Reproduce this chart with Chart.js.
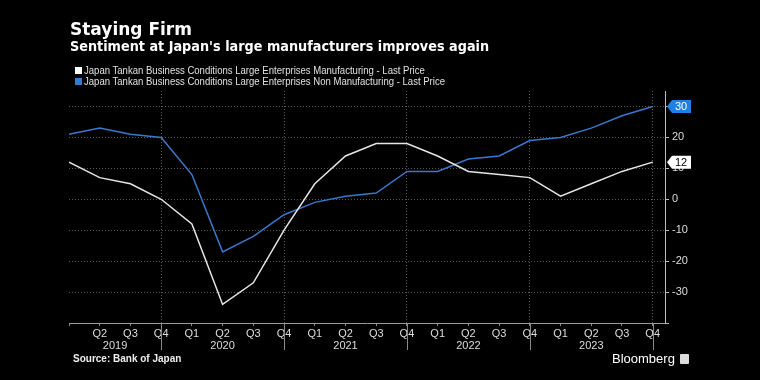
<!DOCTYPE html>
<html>
<head>
<meta charset="utf-8">
<script src="https://cdn.jsdelivr.net/npm/chart.js@4.4.0/dist/chart.umd.min.js"></script>
<style>
body{margin:0;background:#000;width:760px;height:380px;overflow:hidden;position:relative;}
#wrap{position:absolute;left:0;top:0;width:760px;height:380px;}
.t{position:absolute;color:#fff;white-space:nowrap;line-height:1;transform-origin:0 0;}
#title{left:70px;top:19px;font:bold 17px "DejaVu Sans";}
#sub{left:70px;top:38px;font:bold 14.5px "DejaVu Sans";transform:scaleX(0.885);}
.leg{left:75px;font:10.5px "Liberation Sans";color:#e0e0e0;}
.leg i{display:inline-block;width:7px;height:7px;margin-right:2px;}
.leg span{display:inline-block;transform:scaleX(0.91);transform-origin:0 0;}
#src{left:73px;top:353px;font:bold 10px "Liberation Sans";color:#eee;}
#bb{left:612px;top:351px;font:13px "Liberation Sans";color:#fff;}
#bb span{display:inline-block;width:9px;height:10px;background:#ddd;margin-left:5px;vertical-align:-1px;border-radius:1px;}
</style>
</head>
<body>
<div id="wrap"><canvas id="chart" width="760" height="380"></canvas></div>
<div class="t" id="title">Staying Firm</div>
<div class="t" id="sub">Sentiment at Japan's large manufacturers improves again</div>
<div class="t leg" style="top:64px"><i style="background:#fff"></i><span>Japan Tankan Business Conditions Large Enterprises Manufacturing - Last Price</span></div>
<div class="t leg" style="top:75px"><i style="background:#2f7fd8"></i><span>Japan Tankan Business Conditions Large Enterprises Non Manufacturing - Last Price</span></div>
<div class="t" id="src">Source: Bank of Japan</div>
<div class="t" id="bb">Bloomberg<span></span></div>
<script>
// quarterly, 2019 Q1 .. 2023 Q4
var quarters = ['Q1','Q2','Q3','Q4','Q1','Q2','Q3','Q4','Q1','Q2','Q3','Q4','Q1','Q2','Q3','Q4','Q1','Q2','Q3','Q4'];
var years = ['2019','2020','2021','2022','2023'];
var yearCenters = [1.5, 5, 9, 13, 17];
var yearBreaks = [3, 7, 11, 15, 19];
var manufacturing = [12,7,5,0,-8,-34,-27,-10,5,14,18,18,14,9,8,7,1,5,9,12];
var nonManufacturing = [21,23,21,20,8,-17,-12,-5,-1,1,2,9,9,13,14,19,20,23,27,30];

var white = '#e6e6e6';
var blue = '#3679d0';

function pts(arr){ return arr.map(function(v,i){ return {x:i, y:v}; }); }

var lastLabels = {
  id: 'lastLabels',
  afterDraw: function(chart){
    var c = chart.ctx, ys = chart.scales.y;
    var boxes = [
      {v: manufacturing[manufacturing.length-1], bg:'#ffffff', fg:'#000'},
      {v: nonManufacturing[nonManufacturing.length-1], bg:'#1f7fe3', fg:'#fff'}
    ];
    c.save();
    // long year separators under the axis
    var xs = chart.scales.x, b = chart.chartArea.bottom;
    c.strokeStyle = '#8a8a8a'; c.lineWidth = 1;
    yearBreaks.forEach(function(v){
      var x = Math.round(xs.getPixelForValue(v)) + 0.5;
      c.beginPath(); c.moveTo(x, b); c.lineTo(x, b + 27); c.stroke();
    });
    boxes.forEach(function(bx){
      var y = ys.getPixelForValue(bx.v), x0 = ys.left + 2;
      c.fillStyle = bx.bg;
      c.beginPath();
      c.moveTo(x0, y); c.lineTo(x0+5, y-6.5); c.lineTo(x0+24, y-6.5);
      c.lineTo(x0+24, y+6.5); c.lineTo(x0+5, y+6.5); c.closePath(); c.fill();
      c.fillStyle = bx.fg; c.font = '11px "Liberation Sans"';
      c.textAlign = 'center'; c.textBaseline = 'middle';
      c.fillText(String(bx.v), x0+14, y+1);
    });
    c.restore();
  }
};

new Chart(document.getElementById('chart'), {
  type: 'line',
  data: {
    datasets: [
      {label:'Manufacturing', data: pts(manufacturing), borderColor: white, borderWidth: 1.5, pointRadius: 0, tension: 0},
      {label:'Non Manufacturing', data: pts(nonManufacturing), borderColor: blue, borderWidth: 1.5, pointRadius: 0, tension: 0}
    ]
  },
  options: {
    responsive: false,
    animation: false,
    layout: {padding: {top: 91, left: 69, right: 0, bottom: 0}},
    plugins: {legend: {display: false}, tooltip: {enabled: false}},
    scales: {
      x: {
        type: 'linear', position: 'bottom', min: 0, max: 19.4, weight: 0,
        afterBuildTicks: function(s){ s.ticks = quarters.map(function(q,i){ return {value:i}; }); },
        afterFit: function(s){ s.height = 16; },
        ticks: {autoSkip: false, maxRotation: 0, padding: 1, color: '#dcdcdc', font: {family: 'Liberation Sans', size: 11},
          callback: function(v){ return v === 0 ? '' : quarters[v]; }},
        grid: {color: function(ctx){ return ctx.tick && ctx.tick.value % 4 === 3 ? '#5a5a5a' : 'rgba(0,0,0,0)'; },
          tickColor: '#888', tickLength: 3, lineWidth: 1},
        border: {color: '#9a9a9a', dash: [1, 2]}
      },
      x2: {
        type: 'linear', position: 'bottom', min: 0, max: 19.4, weight: 1,
        afterBuildTicks: function(s){ s.ticks = yearCenters.map(function(v){ return {value:v}; }); },
        afterFit: function(s){ s.height = 41; },
        ticks: {autoSkip: false, maxRotation: 0, padding: 0, color: '#dcdcdc', font: {family: 'Liberation Sans', size: 11},
          callback: function(v){ return years[yearCenters.indexOf(v)]; }},
        grid: {display: false, drawTicks: false},
        border: {display: false}
      },
      y: {
        position: 'right', min: -40, max: 35,
        afterFit: function(s){ s.width = 95; },
        ticks: {stepSize: 5, padding: 3, color: '#dcdcdc', font: {family: 'Liberation Sans', size: 11},
          callback: function(v){ return v % 10 === 0 && v > -40 ? v : ''; }},
        grid: {color: function(ctx){ return ctx.tick && ctx.tick.value % 10 === 0 && ctx.tick.value > -40 ? '#5a5a5a' : 'rgba(0,0,0,0)'; },
          tickColor: '#bbb', tickLength: 4},
        border: {color: '#bdbdbd', dash: [1, 2]}
      }
    }
  },
  plugins: [lastLabels]
});
</script>
</body>
</html>
